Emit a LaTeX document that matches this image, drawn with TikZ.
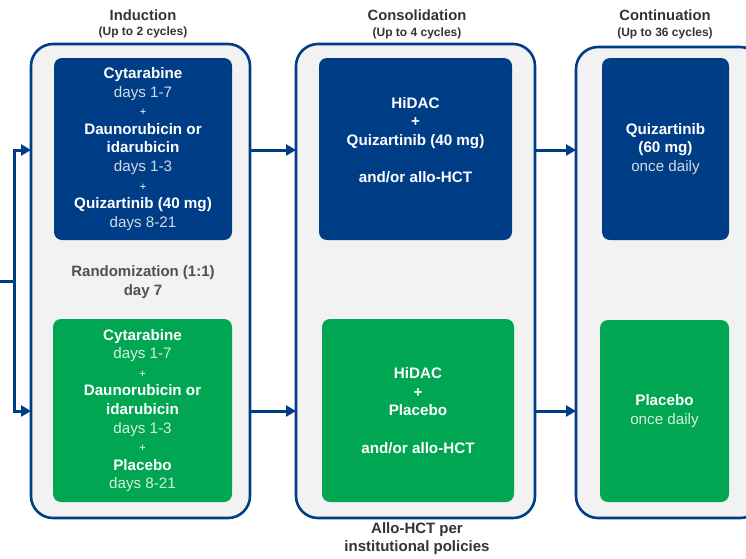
\documentclass[tikz,border=0pt]{standalone}
\usepackage{fontspec}
\setmainfont{Liberation Sans}
\usetikzlibrary{arrows.meta}
\definecolor{dblue}{RGB}{0,61,135}
\definecolor{dgreen}{RGB}{0,166,81}
\definecolor{panelbg}{RGB}{242,242,242}
\definecolor{lightb}{RGB}{212,216,226}
\definecolor{lightg}{RGB}{216,238,222}
\definecolor{titletxt}{RGB}{51,51,51}
\definecolor{randtxt}{RGB}{80,80,80}
\newcommand{\plusln}{{\fontsize{11}{18.6}\selectfont +}}
\begin{document}
\begin{tikzpicture}[x=1pt,y=-1pt,
  panel/.style={draw=dblue, line width=2.6pt, fill=panelbg, rounded corners=22pt, inner sep=0pt, outer sep=0pt},
  bluebox/.style={fill=dblue, rounded corners=8pt, inner sep=0pt, outer sep=0pt, text=white, align=center, font=\fontsize{15.2}{18.6}\selectfont},
  greenbox/.style={fill=dgreen, rounded corners=8pt, inner sep=0pt, outer sep=0pt, text=white, align=center, font=\fontsize{15.2}{18.6}\selectfont},
  boxtext/.style={inner sep=0pt, text=white, align=center, font=\fontsize{15.2}{18.6}\selectfont},
  title/.style={text=titletxt, font=\bfseries\fontsize{14.8}{16}\selectfont, inner sep=0pt},
  subtitle/.style={text=titletxt, font=\bfseries\fontsize{12}{13}\selectfont, inner sep=0pt},
  note/.style={text=randtxt, align=center, font=\bfseries\fontsize{15}{19}\selectfont, inner sep=0pt},
  conn/.style={draw=dblue, line width=3pt},
  arr/.style={draw=dblue, line width=3pt, -{Triangle[length=10pt,width=11pt]}}
]
\useasboundingbox (0,0) rectangle (746,558);
\clip (0,0) rectangle (746,558);

% panels
\node[panel, minimum width=219pt, minimum height=474pt] (ind) at (140.5,281) {};
\node[panel, minimum width=239pt, minimum height=474pt] (cons) at (415.5,281) {};
\node[panel, minimum width=186pt, minimum height=471pt] (cont) at (669,282.5) {};

% titles
\node[title] (t1) at (143,15) {Induction};
\node[subtitle] (s1) at (143,32) {(Up to 2 cycles)};
\node[title] (t2) at (417,15) {Consolidation};
\node[subtitle] (s2) at (417,33) {(Up to 4 cycles)};
\node[title] (t3) at (665,15) {Continuation};
\node[subtitle] (s3) at (665,33) {(Up to 36 cycles)};

% induction boxes
\node[bluebox, minimum width=178pt, minimum height=182pt] (ib) at (143,149)
  {\textbf{Cytarabine}\\ \textcolor{lightb}{days 1-7}\\ \plusln\\ \textbf{Daunorubicin or}\\ \textbf{idarubicin}\\ \textcolor{lightb}{days 1-3}\\ \plusln\\ \textbf{Quizartinib (40 mg)}\\ \textcolor{lightb}{days 8-21}};
\node[greenbox, minimum width=179pt, minimum height=183pt] (ig) at (142.5,410.5)
  {\textbf{Cytarabine}\\ \textcolor{lightg}{days 1-7}\\ \plusln\\ \textbf{Daunorubicin or}\\ \textbf{idarubicin}\\ \textcolor{lightg}{days 1-3}\\ \plusln\\ \textbf{Placebo}\\ \textcolor{lightg}{days 8-21}};
\node[note] (rand) at (143,282.5) {Randomization (1:1)\\day 7};

% consolidation boxes
\node[bluebox, minimum width=193pt, minimum height=182pt] (cb) at (415.5,149) {};
\node[boxtext] (cbt) at (415.5,140)
  {\textbf{HiDAC}\\ \textbf{+}\\ \textbf{Quizartinib (40 mg)}\\[18.6pt] \textbf{and/or allo-HCT}};
\node[greenbox, minimum width=192pt, minimum height=183pt] (cg) at (418,410.5)
  {\textbf{HiDAC}\\ \textbf{+}\\ \textbf{Placebo}\\[18.6pt] \textbf{and/or allo-HCT}};
\node[note, text=titletxt, font=\bfseries\fontsize{15}{18}\selectfont] (allo) at (417,539)
  {Allo-HCT per\\institutional policies};

% continuation boxes
\node[bluebox, minimum width=127pt, minimum height=182pt] (tb) at (665.5,149)
  {\textbf{Quizartinib}\\ \textbf{(60 mg)}\\ \textcolor{lightb}{once daily}};
\node[greenbox, minimum width=129pt, minimum height=182pt] (tg) at (664.5,411)
  {\textbf{Placebo}\\ \textcolor{lightg}{once daily}};

% connectors
\coordinate (in) at (0,281);
\coordinate (jn) at (14,281);
\coordinate (jt) at (14,150);
\coordinate (jb) at (14,411);
\draw[conn] (in) -- (jn);
\draw[conn, line cap=rect] (jt) -- (jb);
\draw[arr] (jt) -- (jt -| ind.west);
\draw[arr] (jb) -- (jb -| ind.west);
\draw[arr] (ind.east |- jt) -- (cons.west |- jt);
\draw[arr] (ind.east |- jb) -- (cons.west |- jb);
\draw[arr] (cons.east |- jt) -- (cont.west |- jt);
\draw[arr] (cons.east |- jb) -- (cont.west |- jb);
\end{tikzpicture}
\end{document}
